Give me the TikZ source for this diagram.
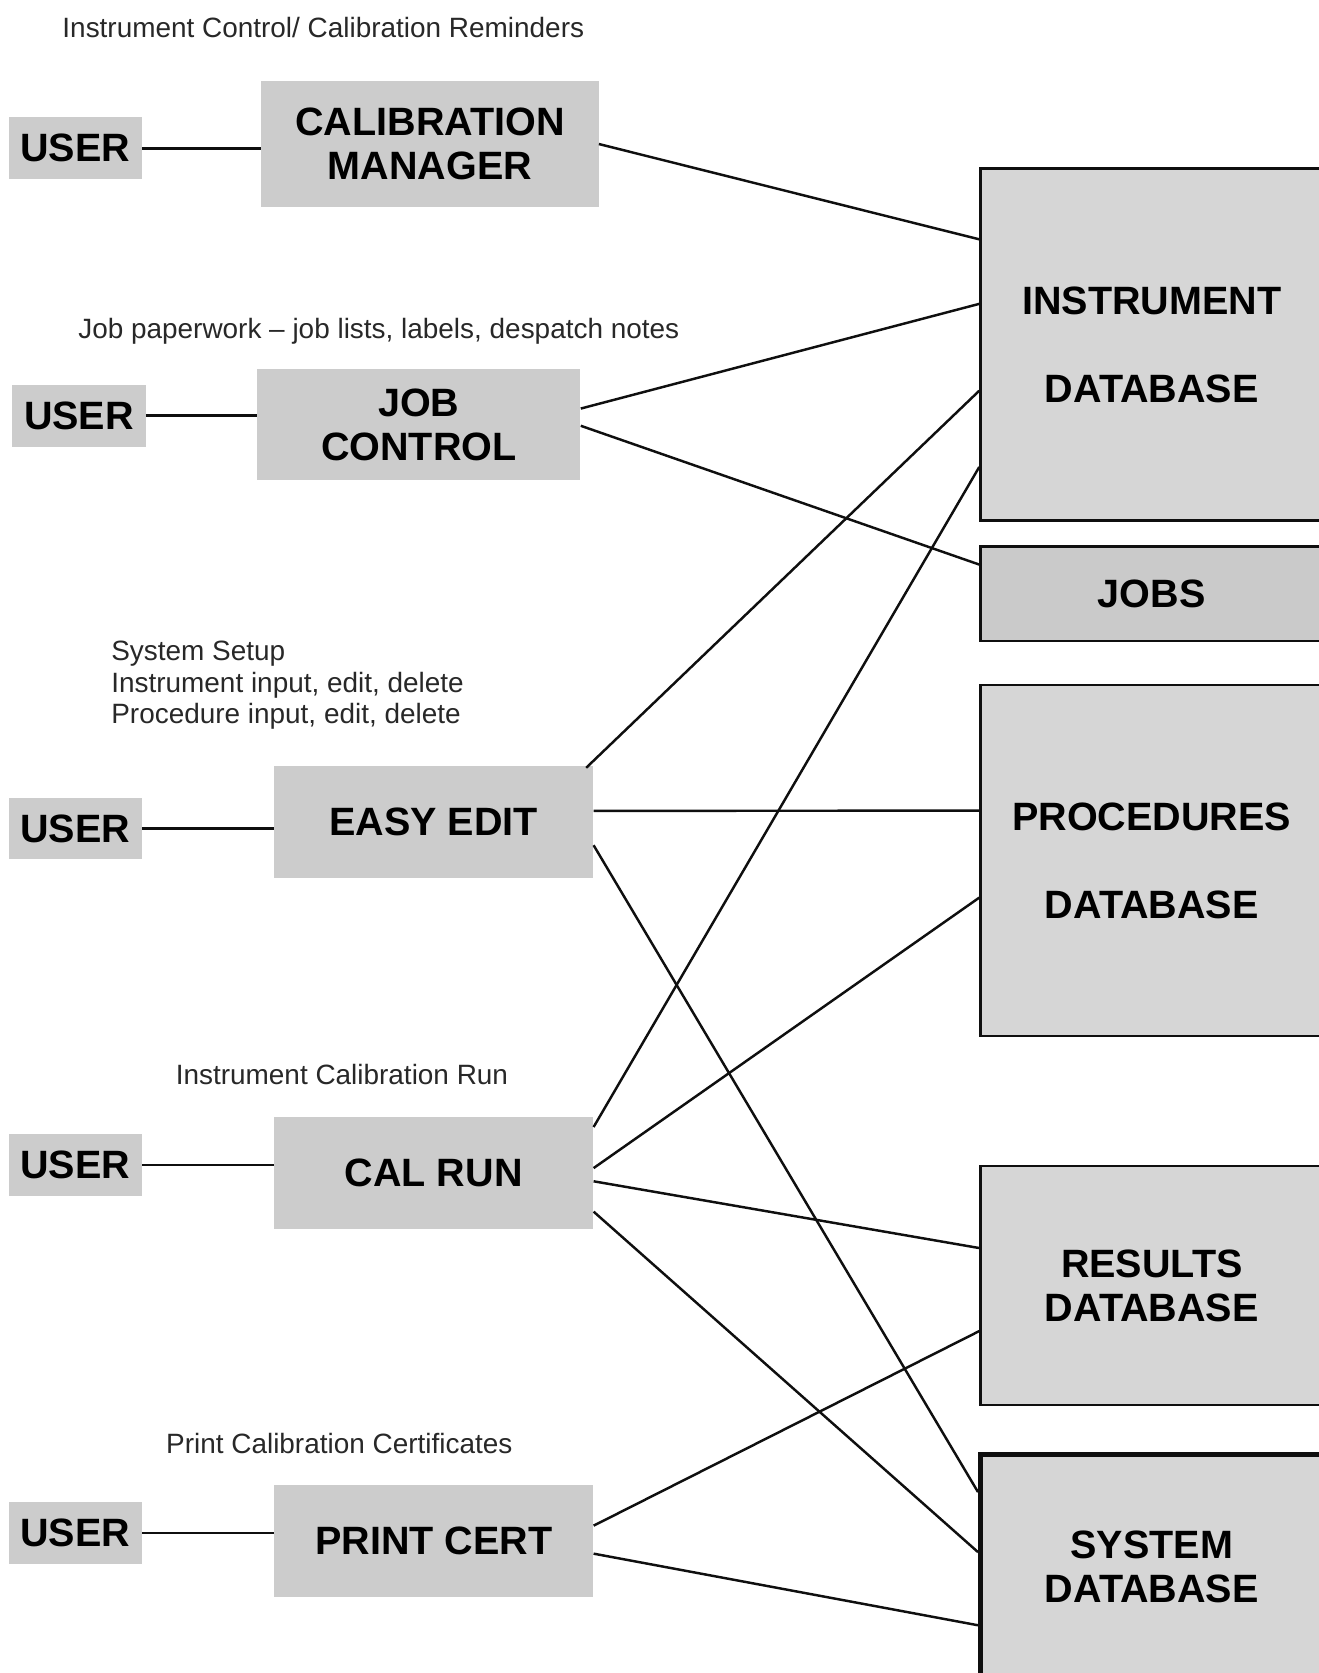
\documentclass[tikz,border=0pt]{standalone}
\usepackage{fontspec}
\setmainfont{Liberation Sans}
\usetikzlibrary{calc}
\definecolor{ink}{RGB}{15,15,15}
\definecolor{note}{RGB}{40,40,40}
\definecolor{cMod}{RGB}{204,204,204}
\definecolor{cDb}{RGB}{214,214,214}
\definecolor{cJobs}{RGB}{202,202,202}

\begin{document}
\begin{tikzpicture}[
  x=0.6073pt, y=-0.6073pt,
  user/.style={fill=cMod, inner sep=0pt, minimum width=75.9pt, minimum height=35.2pt, font=\fontsize{22.5}{25}\selectfont\bfseries},
  module/.style={fill=cMod, inner sep=0pt, align=center, minimum width=181.6pt, minimum height=63.8pt, font=\fontsize{22.5}{25}\selectfont\bfseries},
  db/.style={draw=ink, line width=1.4pt, fill=cDb, inner sep=0pt, align=center, minimum width=195pt, font=\fontsize{22.5}{25}\selectfont\bfseries},
  note/.style={inner sep=0pt, align=left, text=note, font=\fontsize{15.9}{18.2}\selectfont},
  link/.style={draw=ink, line width=1.4pt},
]
\useasboundingbox[fill=white] (0,0) rectangle (1236,1568);

% ---- databases (right column) ----
\node[db, minimum height=200.4pt] (idb) at (1079.5,323) {INSTRUMENT\\[25pt]DATABASE};
\node[db, fill=cJobs, minimum height=54pt] (jobs) at (1079.5,556.5) {JOBS};
\node[db, minimum height=199.8pt] (pdb) at (1079.5,806.5) {PROCEDURES\\[25pt]DATABASE};
\node[db, minimum height=136pt] (rdb) at (1079.5,1205) {RESULTS\\DATABASE};
\node[db, line width=2.8pt, minimum height=128.1pt] (sdb) at (1079.5,1468.5) {SYSTEM\\DATABASE};

% ---- calibration manager ----
\node[note, anchor=base] (t1) at (303,35) {Instrument Control/ Calibration Reminders};
\node[user] (u1) at (70.5,139) {USER};
\node[module, minimum width=191.9pt, minimum height=71.7pt] (cm) at (403,135) {CALIBRATION\\MANAGER};

% ---- job control ----
\node[note, anchor=base] (t2) at (355,317) {Job paperwork -- job lists, labels, despatch notes};
\node[user] (u2) at (74,389.5) {USER};
\node[module, minimum width=184pt, minimum height=63.2pt] (jc) at (392.5,398) {JOB\\CONTROL};

% ---- easy edit ----
\node[note, anchor=north west] (t3) at (104,600) {System Setup\\Instrument input, edit, delete\\Procedure input, edit, delete};
\node[user] (u3) at (70.5,776.5) {USER};
\node[module] (ee) at (406.5,770.5) {EASY EDIT};

% ---- cal run ----
\node[note, anchor=base] (t4) at (320.5,1016) {Instrument Calibration Run};
\node[user] (u4) at (70.5,1092) {USER};
\node[module] (cr) at (406.5,1099) {CAL RUN};

% ---- print cert ----
\node[note, anchor=base] (t5) at (318,1362) {Print Calibration Certificates};
\node[user] (u5) at (70.5,1437) {USER};
\node[module] (pc) at (406.5,1444.5) {PRINT CERT};

% ---- user links ----
\draw[link] (u1.east) -- (u1.east -| cm.west);
\draw[link] (u2.east) -- (u2.east -| jc.west);
\draw[link] (u3.east) -- (u3.east -| ee.west);
\draw[link] (u4.east) -- (u4.east -| cr.west);
\draw[link] (u5.east) -- (u5.east -| pc.west);

% ---- module to database links ----
\draw[link] (cm.east) -- ($(idb.north west)!0.203!(idb.south west)$);
\draw[link] ($(jc.north east)!0.356!(jc.south east)$) -- ($(idb.north west)!0.385!(idb.south west)$);
\draw[link] ($(jc.north east)!0.51!(jc.south east)$) -- ($(jobs.north west)!0.2!(jobs.south west)$);
\draw[link] ($(ee.north east)+(-7,2)$) -- ($(idb.north west)!0.63!(idb.south west)$);
\draw[link] ($(ee.north east)!0.4!(ee.south east)$) -- ($(pdb.north west)!0.359!(pdb.south west)$);
\draw[link] ($(ee.north east)!0.705!(ee.south east)$) -- ($(sdb.north west)!0.175!(sdb.south west)$);
\draw[link] ($(cr.north east)!0.096!(cr.south east)$) -- ($(idb.north west)!0.845!(idb.south west)$);
\draw[link] ($(cr.north east)!0.46!(cr.south east)$) -- ($(pdb.north west)!0.605!(pdb.south west)$);
\draw[link] ($(cr.north east)!0.577!(cr.south east)$) -- ($(rdb.north west)!0.344!(rdb.south west)$);
\draw[link] ($(cr.north east)!0.846!(cr.south east)$) -- ($(sdb.north west)!0.436!(sdb.south west)$);
\draw[link] ($(pc.north east)!0.362!(pc.south east)$) -- ($(rdb.north west)!0.688!(rdb.south west)$);
\draw[link] ($(pc.north east)!0.61!(pc.south east)$) -- ($(sdb.north west)!0.754!(sdb.south west)$);

\end{tikzpicture}
\end{document}
